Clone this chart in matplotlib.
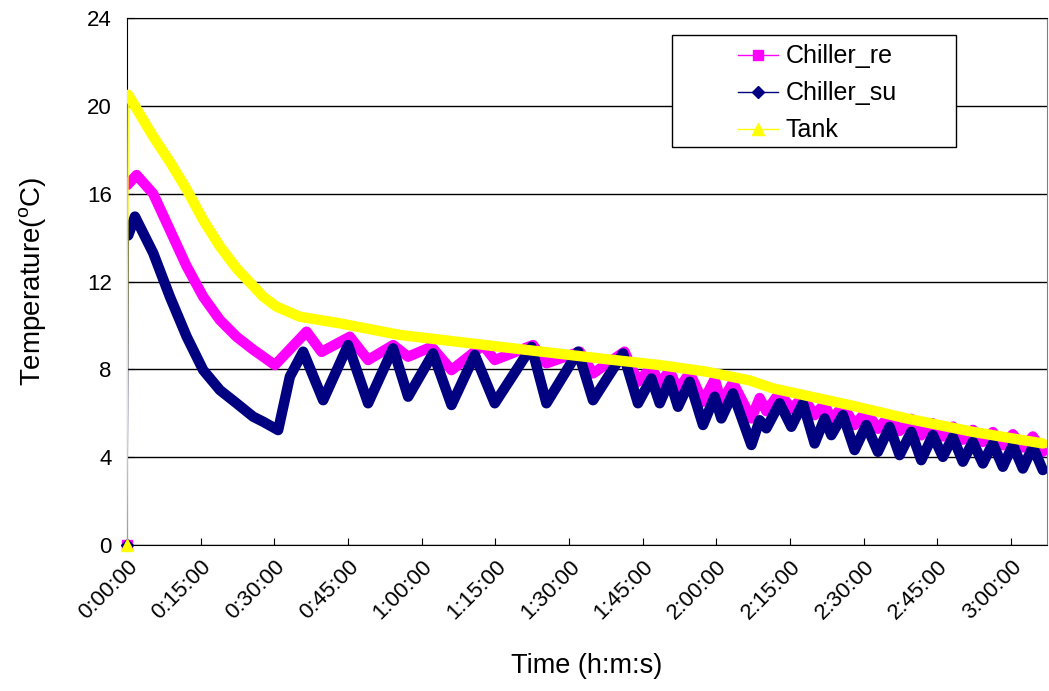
import matplotlib
matplotlib.use('Agg')
import matplotlib.pyplot as plt
from matplotlib.lines import Line2D
from matplotlib.patches import Rectangle

plt.rcParams['font.family'] = ['Liberation Sans', 'DejaVu Sans']

# (minutes, degC)
chiller_re = [(0, 0), (0.1, 16.4), (1.97, 16.85), (5.35, 16.0), (8.75, 14.35), (12.15, 12.7),
              (15.53, 11.31), (18.93, 10.25), (22.32, 9.49), (25.7, 8.9), (27.74, 8.58), (30.12, 8.2),
              (36.57, 9.72), (39.62, 8.8), (45.38, 9.49), (49.1, 8.43),
              (54.19, 9.11), (57.25, 8.58), (62.01, 9.03), (66.08, 7.97), (72.51, 9.11), (74.89, 8.43),
              (82.68, 9.11), (85.41, 8.28), (92.19, 8.81), (94.89, 7.82), (101.3, 8.81), (104.05, 7.44),
              (106.77, 8.1), (108.47, 7.37), (110.5, 7.95), (112.19, 7.06), (114.57, 7.85), (117.28, 6.53),
              (119.67, 7.55), (121.02, 6.5), (123.38, 7.4), (127.13, 5.77), (128.82, 6.7), (130.18, 6.1),
              (132.89, 6.95), (135.27, 6.2), (137.63, 6.75), (140.01, 5.92), (142.05, 6.45), (143.41, 5.69),
              (145.77, 6.35), (148.15, 5.47), (150.53, 6.1), (152.89, 5.3), (155.27, 5.9), (157.31, 5.2),
              (159.69, 5.75), (161.72, 5.0), (164.08, 5.55), (166.12, 4.95), (168.15, 5.4), (170.19, 4.8),
              (172.22, 5.25), (174.26, 4.7), (176.3, 5.15), (178.33, 4.55), (180.37, 5.05), (182.4, 4.45),
              (184.44, 4.95), (186.47, 4.25)]

chiller_su = [(0, 0), (0.26, 14.1), (1.63, 14.96), (5.35, 13.3), (8.75, 11.31), (12.15, 9.5),
              (15.53, 7.97), (18.93, 7.06), (22.32, 6.46), (25.7, 5.85), (27.74, 5.62),
              (30.79, 5.24), (33.17, 7.67), (35.88, 8.81), (39.95, 6.6), (45.03, 9.11),
              (49.1, 6.46), (54.19, 8.96), (57.25, 6.76), (62.33, 8.73), (66.08, 6.38), (70.82, 8.66),
              (74.89, 6.46), (82.36, 9.03), (85.41, 6.46), (91.85, 8.81), (94.89, 6.6), (101.0, 8.73),
              (104.05, 6.46), (106.77, 7.59), (108.47, 6.46), (110.5, 7.52), (112.19, 6.3), (114.57, 7.44),
              (117.28, 5.47), (119.67, 6.76), (121.02, 5.77), (123.38, 6.91), (127.13, 4.56), (128.82, 5.69),
              (130.18, 5.32), (132.89, 6.46), (135.27, 5.39), (137.63, 6.46), (140.01, 4.63), (142.05, 5.77),
              (143.41, 5.01), (145.77, 5.92), (148.15, 4.33), (150.53, 5.47), (152.89, 4.25), (155.27, 5.39),
              (157.31, 4.1), (159.69, 5.16), (161.72, 3.87), (164.08, 5.01), (166.12, 4.02), (168.15, 4.93),
              (170.19, 3.8), (172.22, 4.71), (174.26, 3.72), (176.3, 4.63), (178.33, 3.57), (180.37, 4.56),
              (182.4, 3.49), (184.44, 4.48), (186.47, 3.42)]

tank = [(0, 0), (0.26, 20.5), (5.35, 18.6), (8.75, 17.45), (12.15, 16.2), (15.53, 14.8),
        (18.93, 13.6), (22.32, 12.6), (25.7, 11.8), (27.74, 11.31),
        (30.46, 10.86), (35.21, 10.4), (43.3, 10.1), (55.6, 9.57), (76.0, 9.03), (96.3, 8.5),
        (108.5, 8.2), (117.97, 7.9), (126.8, 7.5), (131.5, 7.14), (147.1, 6.38), (158.7, 5.77),
        (172.2, 5.16), (186.5, 4.63)]

tick_minutes = [0, 15, 30, 45, 60, 75, 90, 105, 120, 135, 150, 165, 180]
tick_labels = ['0:00:00', '0:15:00', '0:30:00', '0:45:00', '1:00:00', '1:15:00', '1:30:00',
               '1:45:00', '2:00:00', '2:15:00', '2:30:00', '2:45:00', '3:00:00']

series = [('Chiller_re', chiller_re, '#FF00FF', 's', 7),
          ('Chiller_su', chiller_su, '#000080', 'D', 6),
          ('Tank', tank, '#FFFF00', '^', 8)]

fig = plt.figure(figsize=(10.49, 6.91), dpi=100)
ax = fig.add_axes([0.121, 0.211, 0.877, 0.763])

handles = []
for name, pts, col, mk, ms in series:
    t = [p[0] for p in pts]
    v = [p[1] for p in pts]
    ax.plot(t, v, color=col, lw=1, zorder=3)
    ax.plot(t[1:], v[1:], color=col, lw=7.5, solid_joinstyle='round',
            solid_capstyle='round', zorder=3)
    ax.plot(t[:1], v[:1], color=col, marker=mk, ms=ms, ls='none', zorder=4, clip_on=False)
    handles.append(Line2D([], [], color=col, lw=1, marker=mk, ms=ms))

ax.set_xlim(0, 187.3)
ax.set_ylim(0, 24)
ax.set_yticks([0, 4, 8, 12, 16, 20, 24])
ax.set_xticks(tick_minutes)
ax.set_xticklabels(tick_labels, rotation=45, ha='right', rotation_mode='anchor')
ax.tick_params(direction='in', length=5, labelsize=16, color='black')
ax.tick_params(axis='x', pad=8)
ax.tick_params(axis='y', pad=11)
ax.yaxis.grid(True, color='black', lw=1)
ax.set_axisbelow(True)
for s in ['left', 'bottom', 'top']:
    ax.spines[s].set_color('black')
ax.spines['right'].set_color('#808080')

ax.set_xlabel('Time (h:m:s)', fontsize=19.5, labelpad=21)
ax.set_ylabel(r'Temperature($\mathregular{^{o}}$C)', fontsize=20, labelpad=28)

ax.add_patch(Rectangle((0.593, 0.755), 0.308, 0.213, transform=ax.transAxes,
                       facecolor='white', edgecolor='black', lw=1, zorder=5, clip_on=False))
leg = ax.legend(handles, [s[0] for s in series], loc='center left', bbox_to_anchor=(0.651, 0.857),
                frameon=False, fontsize=18, borderpad=0, handlelength=1.6,
                handletextpad=0.3, labelspacing=0.52)
leg.set_zorder(6)

fig.savefig('out.png', dpi=100)
